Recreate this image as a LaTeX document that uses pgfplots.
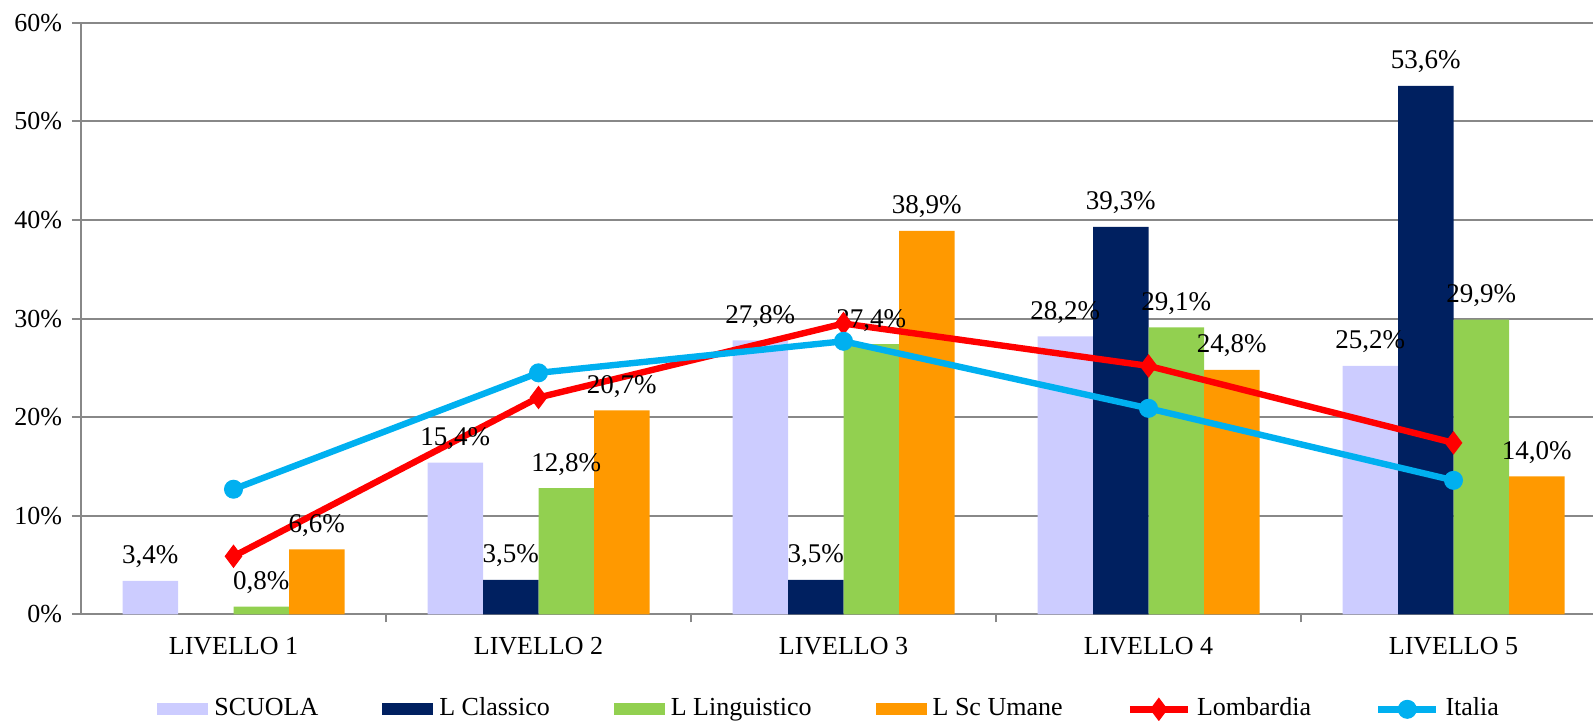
\documentclass[border=0pt]{standalone}
\usepackage{fontspec}
\setmainfont{Liberation Serif}
\usepackage{pgfplots}
\pgfplotsset{compat=1.18}
\definecolor{cScuola}{HTML}{CCCCFF}
\definecolor{cClassico}{HTML}{002060}
\definecolor{cLing}{HTML}{92D050}
\definecolor{cUmane}{HTML}{FF9900}
\definecolor{cLomb}{HTML}{FF0000}
\definecolor{cItalia}{HTML}{00B0F0}
\definecolor{cGrid}{HTML}{888888}
\pgfplotsset{
  barleg/.style={legend image code/.code={\fill[##1] (0pt,-1.05pt) rectangle (25.5pt,4.95pt);}},
  lineleg/.style={legend image code/.code={\draw[##1,mark repeat=2,mark phase=2] plot coordinates {(0pt,1.95pt) (14.5pt,1.95pt) (29pt,1.95pt)};}},
  barlab/.style={nodes near coords={\pgfmathprintnumber[fixed,fixed zerofill,precision=1,use comma,assume math mode=true]{\pgfplotspointmeta}\%},
    every node near coord/.append style={font=\fontsize{13.5pt}{15pt}\selectfont, text=black, yshift=3pt}},
}
\begin{document}
\begin{tikzpicture}[font=\fontsize{13pt}{15pt}\selectfont]
\begin{axis}[
  at={(40.5pt,53.25pt)}, anchor=south west,
  scale only axis, width=762.5pt, height=295.9pt,
  xmin=-0.5, xmax=4.5, ymin=0, ymax=60,
  ybar=0pt, bar width=27.75pt,
  clip=false,
  /pgf/number format/assume math mode=true,
  axis x line*=bottom, axis y line*=left,
  axis line style={cGrid, line width=1pt},
  xtick={0,1,2,3,4},
  xticklabels={LIVELLO 1,LIVELLO 2,LIVELLO 3,LIVELLO 4,LIVELLO 5},
  xticklabel style={yshift=-3.5pt},
  minor xtick={0.5,1.5,2.5,3.5},
  major x tick style={draw=none},
  ytick={0,10,20,30,40,50,60},
  yticklabels={0\%,10\%,20\%,30\%,40\%,50\%,60\%},
  tick align=outside, major tick length=4.5pt, minor tick length=4pt,
  tick style={cGrid, line width=1pt},
  ymajorgrids, grid style={cGrid, line width=1pt},
  yticklabel style={xshift=-1.5pt},
  legend columns=6,
  legend style={at={(0.0498,-0.1597)}, anchor=west, draw=none, fill=none, inner sep=0pt,
    nodes={inner sep=0pt, yshift=2.5pt},
    /tikz/every odd column/.append style={column sep=3pt},
    /tikz/every even column/.append style={column sep=32pt}},
]
\addplot[ybar, fill=cScuola, draw=none, barlab, barleg] coordinates {(0,3.4) (1,15.4) (2,27.8) (3,28.2) (4,25.2)};
\addplot[ybar, fill=cClassico, draw=none, barlab, barleg] coordinates {(1,3.5) (2,3.5) (3,39.3) (4,53.6)};
\addplot[ybar, fill=cLing, draw=none, barlab, barleg] coordinates {(0,0.8) (1,12.8) (2,27.4) (3,29.1) (4,29.9)};
\addplot[ybar, fill=cUmane, draw=none, barlab, barleg] coordinates {(0,6.6) (1,20.7) (2,38.9) (3,24.8) (4,14.0)};
\addplot[sharp plot, draw=cLomb, line width=3.2pt, mark=diamond*, mark size=5.5pt,
  mark options={solid, fill=cLomb, draw=cLomb, line width=0.5pt}, lineleg] coordinates {(0,5.9) (1,22.0) (2,29.5) (3,25.2) (4,17.4)};
\addplot[sharp plot, draw=cItalia, line width=3.2pt, mark=*, mark size=4.5pt,
  mark options={solid, fill=cItalia, draw=cItalia, line width=0.5pt}, lineleg] coordinates {(0,12.7) (1,24.5) (2,27.7) (3,20.9) (4,13.6)};
\legend{SCUOLA,L Classico,L Linguistico,L Sc Umane,Lombardia,Italia}
\end{axis}
\pgfresetboundingbox
\useasboundingbox (0pt,0pt) rectangle (796.5pt,360.5pt);
\end{tikzpicture}
\end{document}
